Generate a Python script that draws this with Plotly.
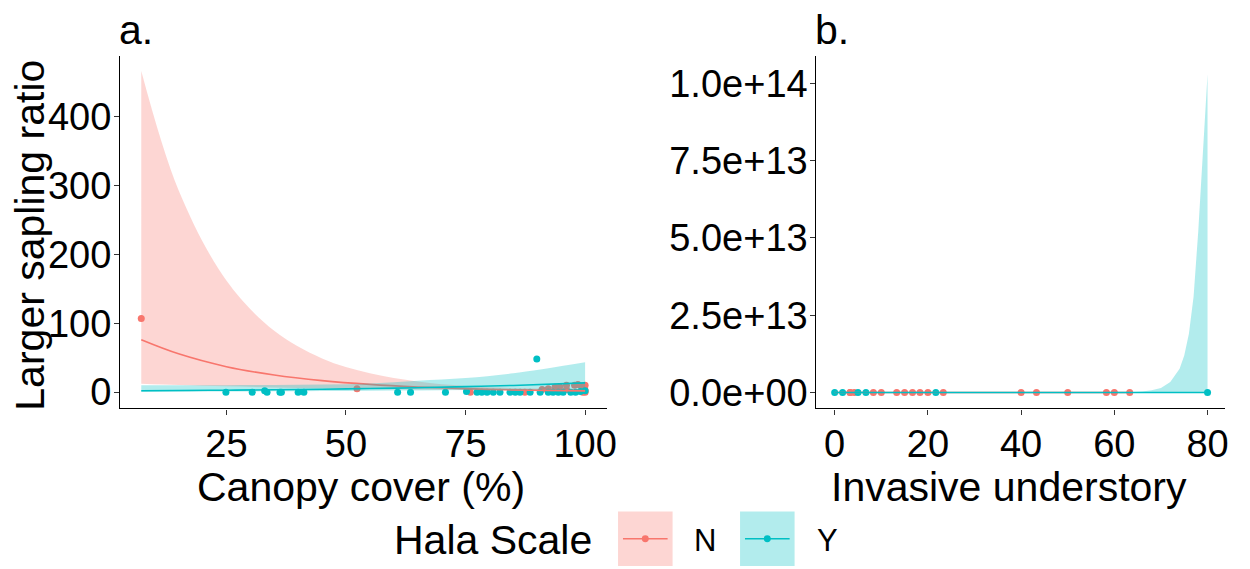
import plotly.graph_objects as go

W, H = 1250, 569
RED = "#F8766D"
CYAN = "#00BFC4"
RED_FILL = "rgba(248,118,109,0.3)"
CYAN_FILL = "rgba(0,191,196,0.3)"
FONT = "Liberation Sans, Arial, Helvetica, sans-serif"

# ---------------- Panel a: Canopy cover ----------------
a_N_x = [7.2, 52.3, 76.0, 87.4, 91.0, 92.3, 93.7, 94.0, 94.7, 96.1, 96.1, 97.8, 98.5, 99.2, 99.5, 99.9, 100.0, 100.0, 100.0]
a_N_y = [107, 5, 0, 0, 4, 5, 7, 2, 8, 4, 10, 10, 11, 9, 0, 6, 10, 2, 0]
a_Y_x = [24.9, 30.4, 33.0, 33.5, 36.2, 36.5, 40.0, 41.2, 60.8, 63.5, 70.8, 75.2, 77.4, 78.4, 79.5, 80.8,
         82.2, 84.3, 85.4, 86.4, 88.5, 89.9, 90.6, 92.3, 93.3, 94.4, 95.4, 97.0, 98.0, 99.0, 100.0]
a_Y_y = [0, 0, 2, 0, 0, 0, 0, 0, 0, 0, 0, 1, 0, 0, 0, 0,
         0, 0, 0, 0, 0, 48, 0, 0, 0, 0, 0, 0, 0, 1, 2]

a_fit_x = [7.2, 15, 25, 35, 45, 55, 65, 75, 85, 100]
a_N_fit = [76, 55.6, 37, 24.9, 16.8, 11.3, 7.6, 5.1, 3.4, 1.9]
a_N_hi = [466, 293, 162, 89, 49, 27.5, 15.5, 9.0, 6.0, 4.0]
a_N_lo = [12.4, 10.5, 8.5, 6.9, 5.7, 4.7, 3.8, 3.0, 2.0, 0.9]
a_Y_fit = [2.0, 2.35, 2.9, 3.55, 4.35, 5.3, 6.5, 8.0, 9.8, 13.5]
a_Y_hi = [10, 10, 10, 10.5, 11, 12.5, 16.5, 20.5, 27.5, 43.5]
a_Y_lo = [0.4, 0.55, 0.83, 1.2, 1.7, 2.25, 2.6, 3.1, 3.5, 4.2]

# ---------------- Panel b: Invasive understory ----------------
b_N_x = [3.3, 3.3, 4.2, 8.3, 10.0, 13.3, 15.0, 16.7, 18.3, 20.0, 23.3, 40.0, 43.3, 50.0, 58.3, 60.0, 63.3]
b_N_y = [5, 3, 2, 4, 1, 6, 2, 3, 1, 2, 4, 1, 0, 2, 0, 1, 0]
b_Y_x = [0.0, 1.7, 5.0, 6.7, 21.7, 80.0]
b_Y_y = [0, 1, 0, 2, 0, 0]

b_N_fit_x = [0, 20, 40, 63.3]
b_N_fit = [3, 2, 1.5, 1]
b_N_hi = [10, 6, 5, 8]
b_N_lo = [0.5, 0.5, 0.4, 0.1]

b_Y_fit_x = [0, 20, 40, 60, 64, 66, 68, 70, 72, 74, 75, 76, 77, 78, 79, 80]
b_Y_fit = [1, 1, 1, 0.8, 0.7, 0.7, 0.7, 0.6, 0.6, 0.6, 0.6, 0.6, 0.5, 0.5, 0.5, 0.5]
b_Y_hi = [20, 1e6, 1e9, 3e10, 1.6e11, 3.3e11, 7e11, 1.5e12, 3.4e12, 7.7e12,
          1.2e13, 1.9e13, 3.1e13, 5.2e13, 7.7e13, 1.03e14]
b_Y_lo = [0.05, 0.01, 0.001, 0, 0, 0, 0, 0, 0, 0, 0, 0, 0, 0, 0, 0]

b_yticks = [0, 2.5e13, 5.0e13, 7.5e13, 1.0e14]
b_yticktext = ["0.0e+00", "2.5e+13", "5.0e+13", "7.5e+13", "1.0e+14"]

fig = go.Figure()


def add_panel(xa, ya, pts, fits):
    for (px_, py_, col) in pts:
        fig.add_trace(go.Scatter(x=px_, y=py_, mode="markers", xaxis=xa, yaxis=ya,
                                 marker=dict(color=col, size=7), showlegend=False, hoverinfo="skip"))
    for (fx, fy, lo, hi, col, fill, shape) in fits:
        fig.add_trace(go.Scatter(x=fx, y=lo, mode="lines", xaxis=xa, yaxis=ya,
                                 line=dict(width=0, shape=shape), showlegend=False, hoverinfo="skip"))
        fig.add_trace(go.Scatter(x=fx, y=hi, mode="lines", xaxis=xa, yaxis=ya, fill="tonexty",
                                 fillcolor=fill, line=dict(width=0, shape=shape),
                                 showlegend=False, hoverinfo="skip"))
        fig.add_trace(go.Scatter(x=fx, y=fy, mode="lines", xaxis=xa, yaxis=ya,
                                 line=dict(color=col, width=1.6, shape=shape),
                                 showlegend=False, hoverinfo="skip"))


add_panel("x", "y",
          [(a_N_x, a_N_y, RED), (a_Y_x, a_Y_y, CYAN)],
          [(a_fit_x, a_N_fit, a_N_lo, a_N_hi, RED, RED_FILL, "spline"),
           (a_fit_x, a_Y_fit, a_Y_lo, a_Y_hi, CYAN, CYAN_FILL, "spline")])
add_panel("x2", "y2",
          [(b_N_x, b_N_y, RED), (b_Y_x, b_Y_y, CYAN)],
          [(b_N_fit_x, b_N_fit, b_N_lo, b_N_hi, RED, RED_FILL, "linear"),
           (b_Y_fit_x, b_Y_fit, b_Y_lo, b_Y_hi, CYAN, CYAN_FILL, "linear")])


def px(x):
    return x / W


def py(y):
    return 1 - y / H


axis_common = dict(showline=True, linecolor="black", linewidth=1.3, ticks="outside", ticklen=5,
                   tickwidth=1.2, tickcolor="#333333", showgrid=False, zeroline=False,
                   tickfont=dict(size=38, color="black", family=FONT))

fig.update_layout(
    width=W, height=H,
    margin=dict(l=0, r=0, t=0, b=0),
    paper_bgcolor="white", plot_bgcolor="white",
    font=dict(family=FONT, color="black"),
    showlegend=False,
    xaxis=dict(domain=[px(121), px(612)], range=[2.76, 104.6], tickvals=[25, 50, 75, 100],
               anchor="y", ticklabelstandoff=-3, **axis_common),
    yaxis=dict(domain=[py(412), py(57)], range=[-23.5, 487], tickvals=[0, 100, 200, 300, 400],
               anchor="x", ticklabelstandoff=-5, **axis_common),
    xaxis2=dict(domain=[px(823), px(1235)], range=[-3.92, 83.77], tickvals=[0, 20, 40, 60, 80],
                anchor="y2", ticklabelstandoff=-3, **axis_common),
    yaxis2=dict(domain=[py(412), py(57)], range=[-5.13e12, 1.0865e14], tickvals=b_yticks,
                ticktext=b_yticktext, anchor="x2", ticklabelstandoff=-5, **axis_common),
)

ann = []


def text(x, y, s, size, xanchor="center", angle=0):
    ann.append(dict(x=px(x), y=py(y), xref="paper", yref="paper", text=s, showarrow=False,
                    xanchor=xanchor, yanchor="middle", textangle=angle,
                    font=dict(size=size, color="black", family=FONT)))


text(30, 237, "Larger sapling ratio", 41, angle=-90)
text(364, 491, "Canopy cover (%)", 41)
text(1017, 491, "Invasive understory", 41)
text(118, 30, "a.", 41, xanchor="left")
text(820, 30, "b.", 41, xanchor="left")
text(497, 545, "Hala Scale", 41)
text(711, 545, "N", 31)
text(834, 545, "Y", 31)

shapes = []
for (x0, col, fill) in [(623, RED, RED_FILL), (746, CYAN, CYAN_FILL)]:
    shapes.append(dict(type="rect", xref="paper", yref="paper", x0=px(x0), x1=px(x0 + 55),
                       y0=py(571), y1=py(516), fillcolor=fill, line=dict(width=0)))
    shapes.append(dict(type="line", xref="paper", yref="paper", x0=px(x0 + 5), x1=px(x0 + 50),
                       y0=py(543.5), y1=py(543.5), line=dict(color=col, width=1.6)))
    shapes.append(dict(type="circle", xref="paper", yref="paper", x0=px(x0 + 24), x1=px(x0 + 31),
                       y0=py(547), y1=py(540), fillcolor=col, line=dict(width=0)))

fig.update_layout(annotations=ann, shapes=shapes)
fig.write_html("out.html")
